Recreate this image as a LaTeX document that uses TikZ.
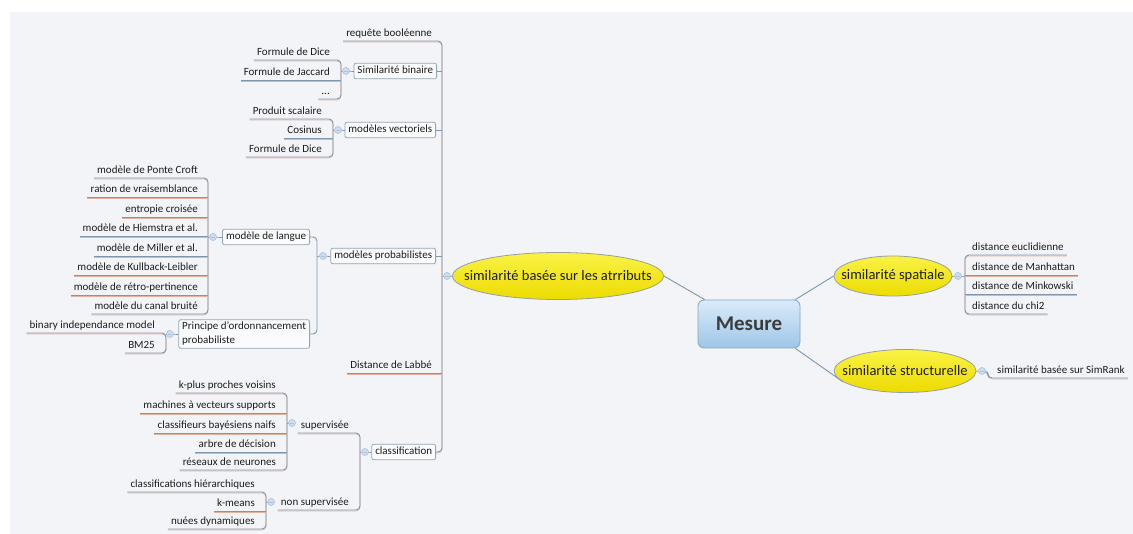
\documentclass[tikz,border=0pt]{standalone}
\usepackage{fontspec}
\setmainfont{Carlito}
\usetikzlibrary{shapes.geometric}
\definecolor{bg}{RGB}{242,244,248}
\definecolor{conc}{RGB}{128,150,172}
\definecolor{ulc}{RGB}{224,180,158}
\definecolor{txt}{RGB}{28,28,28}
\definecolor{mestxt}{RGB}{60,60,60}
\definecolor{boxc}{RGB}{150,165,180}
\definecolor{boxf}{RGB}{250,251,253}
\definecolor{yel1}{RGB}{250,242,70}
\definecolor{yel2}{RGB}{236,220,0}
\definecolor{ellc}{RGB}{150,160,160}
\definecolor{mes1}{RGB}{218,235,249}
\definecolor{mes2}{RGB}{158,198,232}
\definecolor{mesd}{RGB}{130,165,200}
\definecolor{mkf}{RGB}{205,222,242}
\definecolor{mkd}{RGB}{160,188,220}
\newcommand{\leaffont}{\fontsize{11}{14}\selectfont}
\newcommand{\ellfont}{\fontsize{14.5}{17}\selectfont}
\newcommand{\mesfont}{\fontsize{21}{24}\selectfont\bfseries}
\begin{document}
\begin{tikzpicture}[x=1pt,y=-1pt,
 con/.style={draw=conc, line width=0.9pt, rounded corners=4pt},
 brk/.style={con, preaction={draw=ulc, line width=0.6pt, transform canvas={yshift=-1pt}}},
 leafL/.style={anchor=south east, font=\leaffont, text=txt, inner xsep=3pt, inner ysep=2pt, text height=8pt, text depth=2.5pt},
 leafR/.style={leafL, anchor=south west},
 topic/.style={draw=boxc, fill=boxf, rounded corners=2pt, font=\leaffont, text=txt, inner xsep=3.5pt, inner ysep=2.5pt, text height=8pt, text depth=2.5pt, line width=0.8pt, anchor=east},
 ell/.style={ellipse, draw=ellc, line width=0.8pt, top color=yel1, bottom color=yel2, font=\ellfont, text=txt, inner sep=0pt},
 mk/.style={circle, fill=mkf, draw=mkd, line width=0.5pt, minimum size=7pt, inner sep=0pt},
]
\useasboundingbox (0,0) rectangle (1133,534);
\fill[bg] (10,12) rectangle (1133,534);

% ---------- main nodes ----------
\node[draw=mesd, line width=0.8pt, rounded corners=6pt, top color=mes1, bottom color=mes2, minimum width=102pt, minimum height=48pt, font=\mesfont, text=mestxt] (mes) at (749,324) {Mesure};
\node[ell, minimum width=211pt, minimum height=47pt] (attr) at (558,276) {\makebox[0pt]{similarité basée sur les atrributs}};
\node[ell, minimum width=118pt, minimum height=40pt] (spa) at (893,276) {\makebox[0pt]{similarité spatiale}};
\node[ell, minimum width=142pt, minimum height=43pt] (str) at (905,371) {\makebox[0pt]{similarité structurelle}};

% marker coordinates
\coordinate (mkA) at (447,276);
\coordinate (mkS) at (958,276);
\coordinate (mkT) at (982,371);
\coordinate (mkSB) at (346,71);
\coordinate (mkMV) at (338,130);
\coordinate (mkMP) at (323,256);
\coordinate (mkML) at (213,237);
\coordinate (mkPR) at (170,334);
\coordinate (mkCL) at (365,452);
\coordinate (mkSU) at (292,423);
\coordinate (mkNS) at (271,502);

% bracket x positions
\coordinate (vA) at (442,0);
\coordinate (vS) at (965,0);
\coordinate (vSB) at (341,0);
\coordinate (vMV) at (333,0);
\coordinate (vMP) at (317,0);
\coordinate (vML) at (208,0);
\coordinate (vPR) at (166,0);
\coordinate (vCL) at (360,0);
\coordinate (vSU) at (287,0);
\coordinate (vNS) at (266,0);

% ---------- right side ----------
\node[leafR] (s1) at (969,255) {distance euclidienne};
\node[leafR] (s2) at (969,275) {distance de Manhattan};
\node[leafR] (s3) at (969,294) {distance de Minkowski};
\node[leafR] (s4) at (969,314) {distance du chi2};
\node[leafR] (t1) at (994,378) {similarité basée sur SimRank};

% ---------- left side: level 2 ----------
\node[leafL] (req) at (435,41) {requête booléenne};
\node[topic] (sb) at (437,71) {Similarité binaire};
\node[topic] (mv) at (436,130) {modèles vectoriels};
\node[topic] (mp) at (436,256) {modèles probabilistes};
\node[leafL] (lab) at (435,373) {Distance de Labbé};
\node[topic] (cla) at (436,452) {classification};

% Similarité binaire children
\node[leafL] (b1) at (333,60) {Formule de Dice};
\node[leafL] (b2) at (333,80) {Formule de Jaccard};
\node[leafL] (b3) at (333,99) {...};

% modèles vectoriels children
\node[leafL] (v1) at (325,119) {Produit scalaire};
\node[leafL] (v2) at (325,138) {Cosinus};
\node[leafL] (v3) at (325,157) {Formule de Dice};

% modèles probabilistes children
\node[topic] (ml) at (310,237) {modèle de langue};
\node[draw=boxc, fill=boxf, rounded corners=2pt, font=\leaffont, text=txt, inner xsep=3.5pt, inner ysep=2.5pt, line width=0.8pt, anchor=east, align=left] (pr) at (310,334) {Principe d'ordonnancement\\probabiliste};

% modèle de langue children
\node[leafL] (l1) at (201,178) {modèle de Ponte Croft};
\node[leafL] (l2) at (201,197) {ration de vraisemblance};
\node[leafL] (l3) at (201,217) {entropie croisée};
\node[leafL] (l4) at (201,236) {modèle de Hiemstra et al.};
\node[leafL] (l5) at (201,256) {modèle de Miller et al.};
\node[leafL] (l6) at (201,275) {modèle de Kullback-Leibler};
\node[leafL] (l7) at (201,295) {modèle de rétro-pertinence};
\node[leafL] (l8) at (201,314) {modèle du canal bruité};

% Principe children
\node[leafL] (p1) at (158,333) {binary independance model};
\node[leafL] (p2) at (158,353) {BM25};

% classification children
\node[leafL] (su) at (352,433) {supervisée};
\node[leafL] (ns) at (352,510) {non supervisée};
\node[leafL] (c1) at (279,393) {k-plus proches voisins};
\node[leafL] (c2) at (279,413) {machines à vecteurs supports};
\node[leafL] (c3) at (279,433) {classifieurs bayésiens naifs};
\node[leafL] (c4) at (279,452) {arbre de décision};
\node[leafL] (c5) at (279,470) {réseaux de neurones};
\node[leafL] (n1) at (258,492) {classifications hiérarchiques};
\node[leafL] (n2) at (258,511) {k-means};
\node[leafL] (n3) at (258,529) {nuées dynamiques};

% ---------- connectors ----------
\draw[con] (attr.east) -- ([xshift=7pt]mes.north west);
\draw[con] ([xshift=-5pt]mes.north east) -- (spa.west);
\draw[con] ([xshift=-5pt]mes.south east) -- (str.190);

% spatial
\draw[con] (spa.east) -- (mkS) -- (mkS -| vS);
\draw[brk] (s1.south east) -- (s1.south -| vS) -- (s4.south -| vS) -- (s4.south east);
\draw[brk] (s2.south east) -- (s2.south -| vS);
\draw[brk] (s3.south east) -- (s3.south -| vS);
\draw[brk] (str.east) -- (mkT) -- (988,371) -- (988,378) -- (t1.south east);

% attributs main bracket
\draw[con] (attr.west) -- (mkA) -- (mkA -| vA);
\draw[brk] (req.south west) -- (req.south -| vA) -- (cla.east -| vA) -- (cla.east);
\draw[con] (sb.east) -- (sb.east -| vA);
\draw[con] (mv.east) -- (mv.east -| vA);
\draw[con] (mp.east) -- (mp.east -| vA);
\draw[brk] (lab.south west) -- (lab.south -| vA);

% Similarité binaire
\draw[con] (sb.west) -- (mkSB) -- (mkSB -| vSB);
\draw[brk] (b1.south west) -- (b1.south -| vSB) -- (b3.south -| vSB) -- (b3.south west);
\draw[brk] (b2.south west) -- (b2.south -| vSB);

% modèles vectoriels
\draw[con] (mv.west) -- (mkMV) -- (mkMV -| vMV);
\draw[brk] (v1.south west) -- (v1.south -| vMV) -- (v3.south -| vMV) -- (v3.south west);
\draw[brk] (v2.south west) -- (v2.south -| vMV);

% modèles probabilistes
\draw[con] (mp.west) -- (mkMP) -- (mkMP -| vMP);
\draw[con] (ml.east) -- (ml.east -| vMP) -- (pr.east -| vMP) -- (pr.east);

% modèle de langue
\draw[con] (ml.west) -- (mkML) -- (mkML -| vML);
\draw[brk] (l1.south west) -- (l1.south -| vML) -- (l8.south -| vML) -- (l8.south west);
\foreach \n in {l2,l3,l4,l5,l6,l7}{\draw[brk] (\n.south west) -- (\n.south -| vML);}

% Principe
\draw[con] (pr.west) -- (mkPR) -- (mkPR -| vPR);
\draw[brk] (p1.south west) -- (p1.south -| vPR) -- (p2.south -| vPR) -- (p2.south west);

% classification
\draw[con] (cla.west) -- (mkCL) -- (mkCL -| vCL);
\draw[brk] (su.south west) -- (su.south -| vCL) -- (ns.south -| vCL) -- (ns.south west);
\draw[con] (mkSU) -- (mkSU -| vSU);
\draw[brk] (c1.south west) -- (c1.south -| vSU) -- (c5.south -| vSU) -- (c5.south west);
\foreach \n in {c2,c3,c4}{\draw[brk] (\n.south west) -- (\n.south -| vSU);}
\draw[con] (mkNS) -- (mkNS -| vNS);
\draw[brk] (n1.south west) -- (n1.south -| vNS) -- (n3.south -| vNS) -- (n3.south west);
\draw[brk] (n2.south west) -- (n2.south -| vNS);

% markers
\foreach \m in {mkA,mkS,mkT,mkSB,mkMV,mkMP,mkML,mkPR,mkCL,mkSU,mkNS}{
  \node[mk] at (\m) {};
  \draw[mkd!80!black!60, line width=0.6pt] ([xshift=-2pt]\m) -- ([xshift=2pt]\m);
}
\end{tikzpicture}
\end{document}
